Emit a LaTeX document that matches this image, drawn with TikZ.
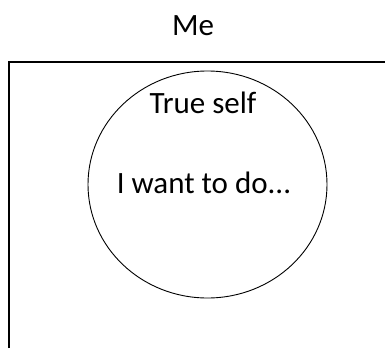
\documentclass[tikz,border=0pt]{standalone}
\usepackage{fontspec}
\setmainfont{Carlito}
\usepackage{tikz}
\usetikzlibrary{positioning,shapes.geometric}

\begin{document}
\begin{tikzpicture}[
  x=1pt, y=-1pt,
  font=\fontsize{31}{36}\selectfont,
  label/.style={anchor=base, inner sep=0pt},
  selfring/.style={draw, ellipse, line width=0.9pt, minimum width=239pt,
    minimum height=227pt, inner sep=0pt},
  ]
  \useasboundingbox (0,0) rectangle (385,348);
  \node[label] (me) at (193,35) {Me};
  % open frame, right and bottom sides run off the page
  \draw[line width=1.4pt] (9,348) -- (9,62) -- (386,62);
  \node[selfring] (self) at (207.5,184.5) {};
  \node[label] (true) at (203,113) {True self};
  \node[label] (want) at (204,193) {I want to do...};
\end{tikzpicture}
\end{document}
